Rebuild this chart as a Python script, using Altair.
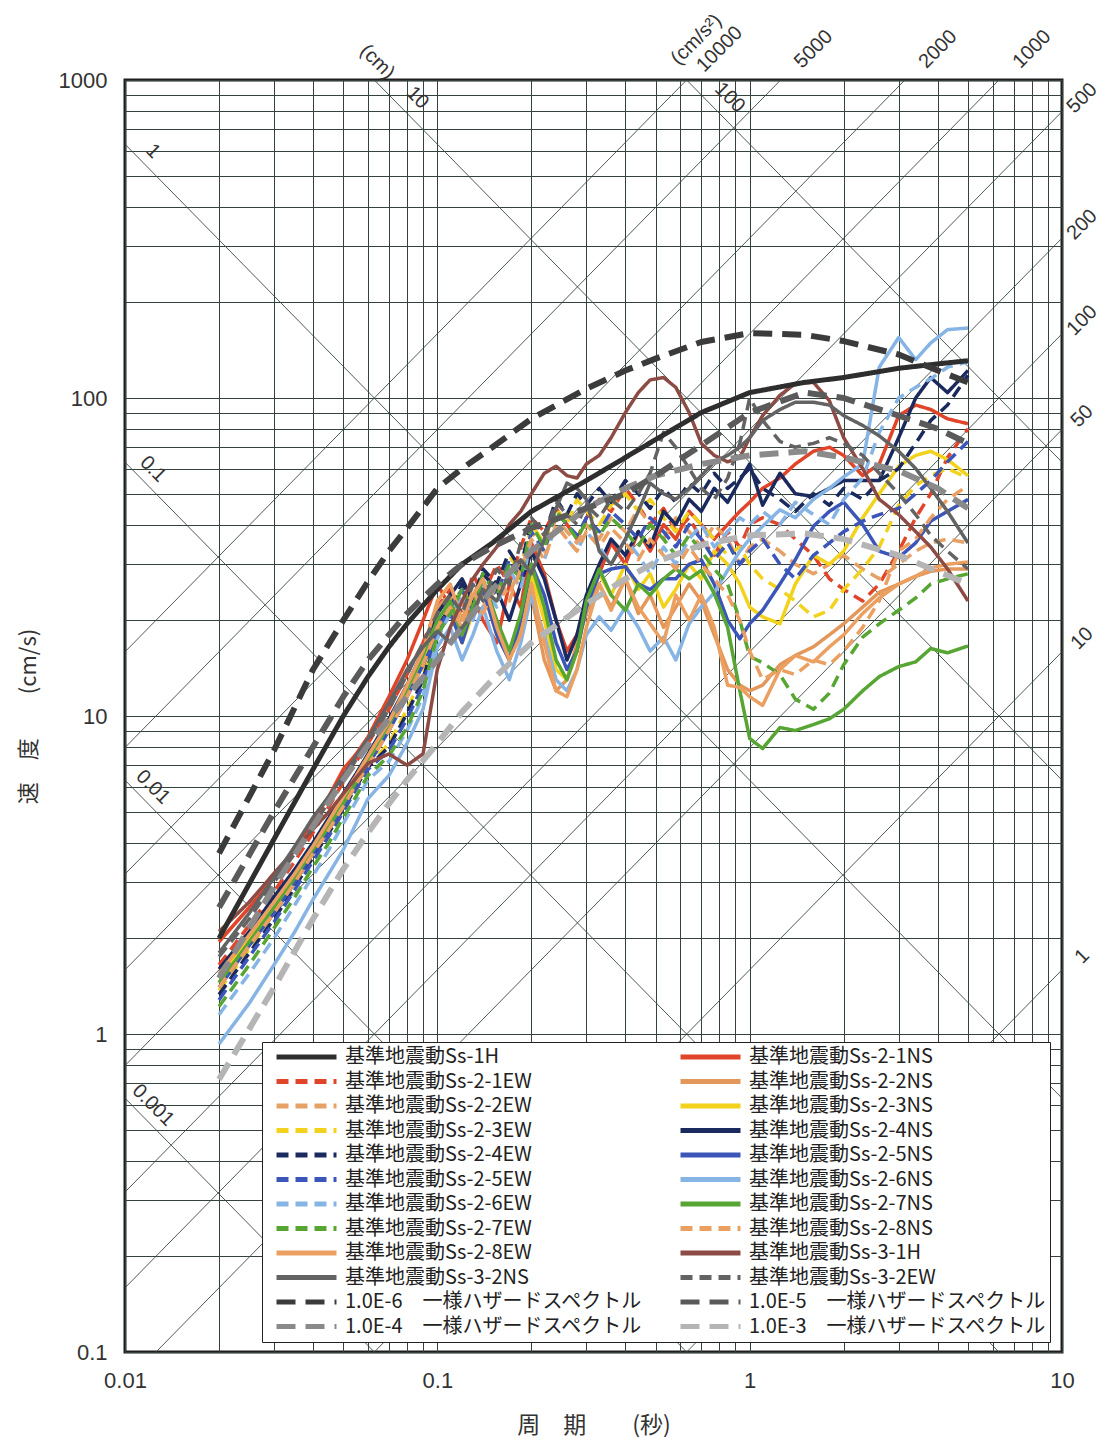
import math
import altair as alt
import pandas as pd

# ---------------- periods (s) ----------------
P = [0.02, 0.025, 0.03, 0.035, 0.04, 0.045, 0.05, 0.055, 0.06, 0.07, 0.08, 0.09, 0.1,
     0.11, 0.12, 0.13, 0.14, 0.155, 0.17, 0.185, 0.2, 0.22, 0.24, 0.26, 0.28, 0.3,
     0.33, 0.36, 0.4, 0.44, 0.48, 0.53, 0.58, 0.64, 0.7, 0.77, 0.85, 0.93, 1.0,
     1.1, 1.25, 1.4, 1.6, 1.8, 2.0, 2.3, 2.6, 3.0, 3.4, 3.8, 4.3, 5.0]
HP = [0.02, 0.03, 0.04, 0.05, 0.06, 0.07, 0.08, 0.1, 0.12, 0.15, 0.2, 0.3, 0.4, 0.5,
      0.7, 1.0, 1.5, 2.0, 3.0, 4.0, 5.0]

# ---------------- pseudo velocity (cm/s) ----------------
ss_1h = [2.0, 4.1, 6.8, 10, 13.3, 16.5, 19.5, 25, 30, 35, 44, 55, 65, 74, 90, 104, 112, 116, 124, 128, 131]
uhs_1e6 = [3.7, 7.8, 14, 20, 26.5, 33, 39, 52, 60, 70, 86, 107, 122, 133, 150, 160, 158, 151, 137, 122, 112]
uhs_1e5 = [2.5, 5.0, 8.0, 11.5, 15, 18, 21, 26, 30, 34, 39, 45, 50, 57, 71, 90, 104, 100, 88, 80, 72]
uhs_1e4 = [1.5, 2.9, 4.5, 6.3, 8.1, 9.8, 11.5, 15, 19, 25, 33, 45, 52, 57, 62, 66, 68, 65, 59, 52, 45]
uhs_1e3 = [0.72, 1.4, 2.3, 3.3, 4.3, 5.3, 6.3, 8.2, 10.3, 13, 17, 22.5, 27, 30.5, 34.5, 37, 37.5, 36, 32, 28.5, 26]

s21ns = [1.95, 2.5, 3.1, 3.8, 4.7, 5.6, 6.8, 7.6, 8.6, 11.5, 15, 20, 26,
         22, 18, 24, 20, 17, 26, 22, 35, 28, 20, 16, 18, 22,
         28, 35, 30, 38, 33, 40, 36, 44, 40, 36, 40, 44, 47,
         52, 56, 62, 68, 70, 66, 57, 62, 88, 95, 92, 86, 83]
s21ew = [1.65, 2.2, 2.8, 3.5, 4.3, 5.2, 6.2, 7.2, 8.2, 10.5, 13.5, 17, 22,
         25, 21, 28, 24, 30, 26, 34, 42, 38, 45, 40, 36, 42,
         48, 44, 52, 46, 40, 45, 38, 42, 36, 32, 38, 34, 40,
         42, 40, 36, 32, 27, 25, 23, 26, 33, 42, 50, 65, 80]
s22ns = [1.5, 2.0, 2.5, 3.1, 3.8, 4.6, 5.5, 6.3, 7.2, 9.3, 12, 15.5, 22,
         24, 18, 22, 26, 19, 15, 20, 24, 15, 12, 13, 17, 21,
         26, 22, 27, 21, 24, 19, 22, 26, 23, 18, 14, 12.5, 12,
         12.5, 14.5, 15.5, 16.5, 18, 19.5, 22, 24.5, 26, 27.5, 28.5, 29, 29]
s22ew = [1.45, 1.95, 2.5, 3.1, 3.8, 4.6, 5.5, 6.4, 7.4, 9.5, 12, 15, 20,
         23, 20, 26, 22, 27, 24, 30, 38, 33, 42, 38, 35, 40,
         36, 42, 38, 45, 40, 36, 42, 38, 34, 40, 36, 30, 34,
         36, 33, 30, 28, 30, 32, 29, 27, 30, 33, 35, 36, 35]
s23ns = [1.5, 2.0, 2.5, 3.1, 3.8, 4.5, 5.3, 6.2, 7.1, 9.2, 12, 15, 19,
         22, 17, 21, 25, 18, 15, 19, 28, 20, 14, 13, 16, 22,
         28, 24, 30, 25, 28, 22, 25, 30, 27, 33, 30, 26, 22,
         20.5, 19.5, 26, 32, 30, 33, 42, 50, 61, 66, 68, 64, 57]
s23ew = [1.37, 1.85, 2.4, 3.0, 3.7, 4.4, 5.2, 6.1, 7.0, 8.2, 10.5, 13.5, 19,
         22, 25, 21, 28, 24, 32, 28, 40, 35, 45, 40, 48, 44,
         40, 46, 50, 44, 48, 42, 38, 44, 40, 36, 32, 34, 30,
         27, 25, 23, 20.5, 21.5, 25, 29, 34, 46, 53, 57, 60, 56]
s24ns = [1.6, 2.1, 2.7, 3.3, 4.0, 4.8, 5.7, 6.6, 7.6, 9.8, 12.5, 16, 21,
         24, 27, 23, 28, 25, 20, 26, 33, 27, 20, 15, 18, 24,
         30, 36, 32, 38, 34, 44, 40, 48, 44, 52, 47, 55, 62,
         46, 58, 50, 49, 52, 55, 55, 55, 75, 100, 116, 104, 122]
s24ew = [1.33, 1.8, 2.3, 2.9, 3.6, 4.3, 5.1, 6.0, 6.9, 8.0, 10.2, 13, 19,
         22, 26, 23, 29, 26, 33, 29, 42, 37, 48, 43, 50, 46,
         52, 47, 55, 50, 45, 52, 47, 54, 50, 58, 52, 56, 60,
         52, 48, 44, 50, 46, 52, 48, 55, 60, 72, 85, 95, 118]
s25ns = [1.4, 1.9, 2.4, 3.0, 3.7, 4.4, 5.2, 6.1, 7.0, 9.0, 11.5, 14.5, 18,
         21, 17, 22, 25, 18, 15, 20, 30, 24, 17, 14, 16, 22,
         28, 29, 29.5, 26, 25, 27, 27, 30, 31, 26, 20, 17.5, 19.5,
         21.5, 26, 31, 39.5, 44, 47, 40, 33, 31.5, 35, 41, 44, 48]
s25ew = [1.28, 1.75, 2.25, 2.85, 3.5, 4.2, 5.0, 5.9, 6.8, 7.8, 9.8, 12.5, 18.5,
         22, 25, 21, 27, 24, 31, 27, 38, 33, 44, 40, 37, 42,
         38, 44, 40, 36, 42, 38, 34, 40, 36, 31, 35, 30, 33,
         36, 30, 27, 32, 35, 38, 41, 43, 45, 50, 55, 63, 73]
s26ns = [0.93, 1.25, 1.65, 2.1, 2.65, 3.2, 3.8, 4.6, 5.5, 6.5, 8.2, 10.5, 16.5,
         19, 15, 18, 22, 16, 13, 17, 24, 18, 13, 12, 14, 18,
         20.5, 18.6, 22, 19, 16, 17.7, 15, 19.5, 22, 24.4, 28.7, 33, 36,
         39.5, 44.5, 42, 48, 52, 56.5, 62, 125, 155, 132, 149, 164, 166]
s26ew = [1.15, 1.55, 2.0, 2.55, 3.15, 3.8, 4.6, 5.4, 6.3, 7.2, 9.0, 11.5, 17.5,
         21, 24, 20, 26, 22, 29, 25, 36, 31, 40, 36, 33, 38,
         34, 30, 36, 32, 28, 34, 30, 36, 40, 34, 38, 42, 40,
         44, 40, 47, 43, 40, 48, 56, 78, 100, 108, 115, 125, 130]
s27ns = [1.45, 1.95, 2.5, 3.1, 3.8, 4.5, 5.3, 6.2, 7.2, 9.4, 12.2, 15.5, 20,
         23, 18, 22, 27, 20, 16, 21, 30, 22, 15, 13, 16, 23,
         29, 24, 21.5, 26, 24, 27, 29, 27, 28.7, 24.3, 19, 12, 8.5,
         7.9, 9.2, 9.0, 9.4, 9.8, 10.5, 12, 13.3, 14.3, 14.8, 16.3, 15.8, 16.6]
s27ew = [1.22, 1.65, 2.15, 2.7, 3.35, 4.0, 4.8, 5.6, 6.5, 7.5, 9.2, 12, 18,
         21, 25, 22, 28, 24, 30, 27, 40, 34, 44, 40, 36, 41,
         37, 42, 38, 34, 40, 36, 32, 37, 33, 29, 26, 20, 15.4,
         14.7, 13.5, 11.3, 10.5, 11.8, 14.5, 17.7, 19.5, 21.5, 23.5, 26, 27, 28]
s28ns = [1.4, 1.9, 2.4, 3.0, 3.7, 4.4, 5.2, 6.1, 7.0, 9.0, 11.5, 14.5, 19,
         22, 19, 25, 21, 26, 23, 29, 36, 31, 40, 36, 33, 38,
         34, 39, 35, 31, 36, 32, 29, 34, 30, 27, 24, 20, 16,
         13, 14, 13.5, 15, 14.5, 16, 19, 23, 33, 36, 42, 48, 53]
s28ew = [1.55, 2.05, 2.6, 3.2, 3.9, 4.7, 5.6, 6.5, 7.5, 9.6, 12.5, 16, 23,
         26, 20, 24, 27, 19, 15, 18, 26, 17, 12, 11.5, 14, 19,
         26, 21.5, 27, 22, 19.5, 17, 24, 20, 24, 19, 12.5, 12.3, 11.5,
         10.8, 14, 15.5, 14.8, 16.5, 18, 21, 23.5, 26, 27.5, 29.2, 30, 30.5]
s31h = [2.1, 2.6, 3.2, 3.8, 4.4, 5.0, 5.7, 6.4, 7.1, 7.6, 7.0, 7.6, 14,
        19, 23, 27, 30, 34, 40, 44, 50, 58, 61, 57, 56, 62,
        66, 75, 90, 104, 114, 116, 108, 90, 72, 66, 63, 65, 75,
        88, 102, 111, 112, 98, 75, 60, 48, 43, 38, 34, 29, 23]
s32ns = [1.8, 2.4, 3.1, 3.9, 4.8, 5.6, 6.5, 7.5, 8.5, 11, 14, 16.5, 18.5,
         17, 19, 21, 25, 23, 28, 31, 28, 36, 45, 54, 52, 48,
         33, 30, 36, 44, 54, 50, 48, 52, 57, 63, 66, 70, 75,
         85, 92, 97, 97, 95, 88, 82, 76, 68, 60, 52, 44, 35]
s32ew = [1.75, 2.3, 3.0, 3.7, 4.5, 5.4, 6.3, 7.3, 8.3, 10.5, 13.5, 17, 21,
         24, 21, 26, 23, 29, 26, 35, 42, 37, 47, 43, 40, 46,
         42, 48, 44, 50, 58, 78, 70, 60, 52, 48, 56, 72, 100,
         85, 73, 70, 72, 75, 72, 66, 58, 50, 43, 37, 33, 29]

# ---------------- series names / styles (legend: left column, then right column) ----------------
H6 = "1.0E-6\u3000一様ハザードスペクトル"
H5 = "1.0E-5\u3000一様ハザードスペクトル"
H4 = "1.0E-4\u3000一様ハザードスペクトル"
H3 = "1.0E-3\u3000一様ハザードスペクトル"
K = "基準地震動Ss-"
LEFT_COL = [K + "1H", K + "2-1EW", K + "2-2EW", K + "2-3EW", K + "2-4EW", K + "2-5EW",
            K + "2-6EW", K + "2-7EW", K + "2-8EW", K + "3-2NS", H6, H4]
RIGHT_COL = [K + "2-1NS", K + "2-2NS", K + "2-3NS", K + "2-4NS", K + "2-5NS", K + "2-6NS",
             K + "2-7NS", K + "2-8NS", K + "3-1H", K + "3-2EW", H5, H3]
NAMES = LEFT_COL + RIGHT_COL

SOLID = [1, 0]
DASH = [12, 7]
HDASH = [19, 10]
STYLE = {
    K + "1H": ("#2e2e2e", SOLID),
    K + "2-1NS": ("#e0452a", SOLID), K + "2-1EW": ("#e0452a", DASH),
    K + "2-2NS": ("#e3975a", SOLID), K + "2-2EW": ("#e6a266", DASH),
    K + "2-3NS": ("#f2d21c", SOLID), K + "2-3EW": ("#f2d21c", DASH),
    K + "2-4NS": ("#1b2a5e", SOLID), K + "2-4EW": ("#1b2a5e", DASH),
    K + "2-5NS": ("#3b55b8", SOLID), K + "2-5EW": ("#3b55b8", DASH),
    K + "2-6NS": ("#86b4e4", SOLID), K + "2-6EW": ("#86b4e4", DASH),
    K + "2-7NS": ("#57a532", SOLID), K + "2-7EW": ("#57a532", DASH),
    K + "2-8NS": ("#eba062", DASH), K + "2-8EW": ("#eba062", SOLID),
    K + "3-1H": ("#8c4b44", SOLID),
    K + "3-2NS": ("#636363", SOLID), K + "3-2EW": ("#636363", DASH),
    H6: ("#3b3b3b", HDASH), H5: ("#5a5a5a", HDASH), H4: ("#8a8a8a", HDASH), H3: ("#b5b5b5", HDASH),
}
COLORS = [STYLE[n][0] for n in NAMES]
DASHES = [STYLE[n][1] for n in NAMES]

# drawing order: recorded spectra first, design spectrum, then hazard spectra on top
SERIES = [
    (K + "2-1NS", P, s21ns, 3.5), (K + "2-1EW", P, s21ew, 3.5), (K + "2-2NS", P, s22ns, 3.5),
    (K + "2-2EW", P, s22ew, 3.5), (K + "2-3NS", P, s23ns, 3.5), (K + "2-3EW", P, s23ew, 3.5),
    (K + "2-4NS", P, s24ns, 3.5), (K + "2-4EW", P, s24ew, 3.5), (K + "2-5NS", P, s25ns, 3.5),
    (K + "2-5EW", P, s25ew, 3.5), (K + "2-6NS", P, s26ns, 3.5), (K + "2-6EW", P, s26ew, 3.5),
    (K + "2-7NS", P, s27ns, 3.5), (K + "2-7EW", P, s27ew, 3.5), (K + "2-8NS", P, s28ns, 3.5),
    (K + "2-8EW", P, s28ew, 3.5), (K + "3-1H", P, s31h, 3.5), (K + "3-2NS", P, s32ns, 3.5),
    (K + "3-2EW", P, s32ew, 3.5), (K + "1H", HP, ss_1h, 5.0),
    (H3, HP, uhs_1e3, 6.0), (H4, HP, uhs_1e4, 6.0), (H5, HP, uhs_1e5, 6.0), (H6, HP, uhs_1e6, 6.0),
]

rows = []
for name, per, vals, w in SERIES:
    if len(per) != len(vals):
        raise ValueError(f"length mismatch for {name}: {len(per)} vs {len(vals)}")
    for t, v in zip(per, vals):
        rows.append({"T": t, "v": v, "s": name, "sw": w})
df = pd.DataFrame(rows)

# ---------------- tripartite diagonal lines ----------------
DISP = [0.001, 0.01, 0.1, 1, 10, 100]          # cm
ACC = [1, 10, 50, 100, 200, 500, 1000, 2000, 5000, 10000]  # cm/s2
TMIN, TMAX, VMIN, VMAX = 0.01, 10.0, 0.1, 1000.0
TWO_PI = 2 * math.pi

drows = []
for d in DISP:
    t0 = max(TMIN, TWO_PI * d / VMAX)
    t1 = min(TMAX, TWO_PI * d / VMIN)
    if t0 < t1:
        for t in (t0, t1):
            drows.append({"T": t, "v": TWO_PI * d / t, "id": f"d{d}"})
for a in ACC:
    t0 = max(TMIN, TWO_PI * VMIN / a)
    t1 = min(TMAX, TWO_PI * VMAX / a)
    if t0 < t1:
        for t in (t0, t1):
            drows.append({"T": t, "v": a * t / TWO_PI, "id": f"a{a}"})
diag_df = pd.DataFrame(drows)

# ---------------- diagonal labels ----------------
DISP_LEFT = [(1, "1"), (0.1, "0.1"), (0.01, "0.01"), (0.001, "0.001")]
DISP_TOP = [(10, "10"), (100, "100")]
ACC_TOP = [(10000, "10000"), (5000, "5000"), (2000, "2000"), (1000, "1000")]
ACC_RIGHT = [(500, "500"), (200, "200"), (100, "100"), (50, "50"), (10, "10"), (1, "1")]
UNITS = [("(cm)", 0.0643, 1140, 45), ("(cm/s²)", 0.675, 1340, 315)]

lrows = []
for d, t in DISP_LEFT:
    T = 0.0123
    lrows.append({"T": T, "v": TWO_PI * d / T * 1.17, "t": t, "ang": 45})
for d, t in DISP_TOP:
    lrows.append({"T": TWO_PI * d / 880 * 1.21, "v": 880, "t": t, "ang": 45})
for a, t in ACC_TOP:
    lrows.append({"T": TWO_PI * 1250 / a * 1.02, "v": 1250, "t": t, "ang": 315})
for a, t in ACC_RIGHT:
    lrows.append({"T": 11.6, "v": a * 11.6 / TWO_PI * 0.95, "t": t, "ang": 315})
for t, T, v, ang in UNITS:
    lrows.append({"T": T, "v": v, "t": t, "ang": ang})
lab_df = pd.DataFrame(lrows)

# ---------------- scales / axes ----------------
XV = [round(k * 10.0 ** n, 6) for n in (-2, -1, 0) for k in range(1, 10)] + [10.0]
YV = [round(k * 10.0 ** n, 6) for n in (-1, 0, 1, 2) for k in range(1, 10)] + [1000.0]
GRID = "#34423c"

xscale = alt.Scale(type="log", domain=[TMIN, TMAX], nice=False)
yscale = alt.Scale(type="log", domain=[VMIN, VMAX], nice=False)
xaxis = alt.Axis(values=XV, grid=True, gridColor=GRID, gridWidth=1, gridOpacity=1,
                 ticks=False, domain=False, labelOverlap=False, labelFlush=False,
                 labelExpr="datum.value == 0.01 ? '0.01' : datum.value == 0.1 ? '0.1' : "
                           "datum.value == 1 ? '1' : datum.value == 10 ? '10' : ''",
                 labelFont="Liberation Sans", labelFontSize=22, labelColor="#333",
                 labelPadding=18, title="周\u3000期\u3000\u3000(秒)", titleFont="Noto Sans CJK JP",
                 titleFontSize=23, titleFontWeight="normal", titleColor="#333",
                 titlePadding=23)
yaxis = alt.Axis(values=YV, grid=True, gridColor=GRID, gridWidth=1, gridOpacity=1,
                 ticks=False, domain=False, labelOverlap=False, labelFlush=False,
                 labelExpr="datum.value == 0.1 ? '0.1' : datum.value == 1 ? '1' : "
                           "datum.value == 10 ? '10' : datum.value == 100 ? '100' : "
                           "datum.value == 1000 ? '1000' : ''",
                 labelFont="Liberation Sans", labelFontSize=22, labelColor="#333",
                 labelPadding=18, title="速\u3000度\u3000\u3000(cm/s)", titleFont="Noto Sans CJK JP",
                 titleFontSize=22, titleFontWeight="normal", titleColor="#333",
                 titlePadding=18)


def X():
    return alt.X("T:Q", scale=xscale, axis=xaxis)


def Y():
    return alt.Y("v:Q", scale=yscale, axis=yaxis)


diag = alt.Chart(diag_df).mark_line(color="#3a4843", strokeWidth=0.9).encode(
    x=X(), y=Y(), detail="id:N")

labels = alt.Chart(lab_df).mark_text(
    font="Liberation Sans", fontSize=20, color="#333", align="center",
    baseline="middle").encode(
    x=X(), y=Y(), text="t:N", angle=alt.Angle("ang:Q", scale=None))

legend = alt.Legend(title=None, orient="none", legendX=137, legendY=962, columns=2,
                    columnPadding=26, rowPadding=0.5, clipHeight=24, symbolType="stroke",
                    symbolSize=3600, symbolStrokeWidth=5, symbolOffset=9,
                    labelFont="Noto Sans CJK JP", labelFontSize=20, labelColor="#222",
                    labelLimit=600, labelOffset=6, fillColor="white", strokeColor="#222",
                    padding=3)

curves = alt.Chart(df).mark_line(strokeCap="butt", strokeJoin="round").encode(
    x=X(), y=Y(),
    color=alt.Color("s:N", scale=alt.Scale(domain=NAMES, range=COLORS), legend=legend),
    strokeDash=alt.StrokeDash("s:N", scale=alt.Scale(domain=NAMES, range=DASHES), legend=legend),
    strokeWidth=alt.StrokeWidth("sw:Q", scale=None),
)

chart = alt.layer(diag, labels, curves).properties(
    width=937, height=1272,
    autosize=alt.AutoSizeParams(type="none"),
    padding={"left": 117, "top": 72, "right": 38, "bottom": 88},
    background="white",
).configure_view(stroke="#1e1e1e", strokeWidth=3)

chart.save("out.html", embed_options={"renderer": "svg", "actions": False})
